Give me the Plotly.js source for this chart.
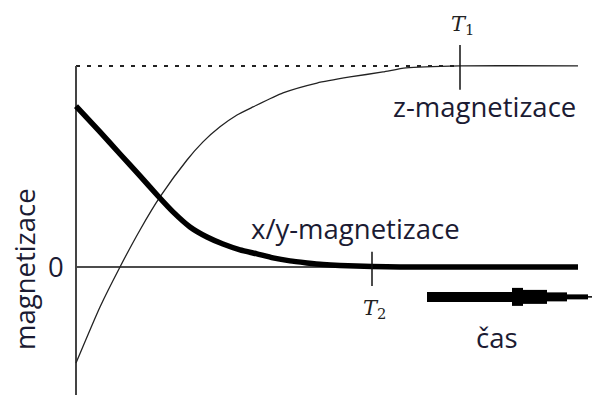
<!DOCTYPE html>
<html>
<head>
<meta charset="utf-8">
<script src="https://cdn.plot.ly/plotly-3.0.1.min.js"></script>
<style>
  html, body { margin: 0; padding: 0; background: #fff; }
  #viz { width: 592px; height: 401px; }
</style>
</head>
<body>
<div id="viz"></div>
<script>
// z-magnetization recovery (thin curve)
const zTime = [0, 0.24, 0.44, 0.64, 0.84, 1.11, 1.27, 1.44, 1.61, 1.77, 2.07, 2.41, 2.74, 3.07, 3.3, 3.84, 5.02];
const zMag = [-0.478, -0.199, 0, 0.184, 0.348, 0.532, 0.622, 0.697, 0.756, 0.796, 0.866, 0.915, 0.945, 0.97, 0.99, 1.0, 1.0];

// x/y-magnetization decay (thick curve)
const xyTime = [0, 0.24, 0.44, 0.64, 0.82, 0.97, 1.14, 1.31, 1.47, 1.64, 1.81, 1.97, 2.14, 2.31, 2.47, 2.64, 2.96, 3.24, 5.02];
const xyMag = [0.8, 0.672, 0.562, 0.453, 0.353, 0.274, 0.199, 0.149, 0.114, 0.085, 0.065, 0.045, 0.03, 0.02, 0.012, 0.007, 0.002, 0, 0];

// time constants
const T1 = 3.84;
const T2 = 2.96;

const tEnd = 5.02;
const axisBottom = -0.637;

const ink = '#1b1b33';
const lbl = { family: 'Open Sans', size: 27.5, color: ink };
const serif = { family: 'DejaVu Serif', size: 21, color: '#222' };

const data = [
	// dotted asymptote
	{ x: [0, T1], y: [1, 1], mode: 'lines', line: { color: '#222', width: 2, dash: '4px,7px' } },
	// zero line
	{ x: [0, tEnd], y: [0, 0], mode: 'lines', line: { color: '#111', width: 1.5 } },
	// vertical axis
	{ x: [0, 0], y: [axisBottom, 1], mode: 'lines', line: { color: '#444', width: 2 } },
	// thin z curve
	{ x: zTime, y: zMag, mode: 'lines', line: { color: '#222', width: 1.3, shape: 'spline', smoothing: 0.6 } },
	// thick x/y curve
	{ x: xyTime, y: xyMag, mode: 'lines', line: { color: '#000', width: 5.5, shape: 'spline', smoothing: 0.5 } },
	// T1 / T2 ticks
	{ x: [T1, T1], y: [0.881, 1.104], mode: 'lines', line: { color: '#111', width: 1.5 } },
	{ x: [T2, T2], y: [-0.095, 0.075], mode: 'lines', line: { color: '#111', width: 1.5 } }
];

// stylised time arrow, pieces from left to right
const arrowY = -0.149;
const arrow = [[3.51, 4.36, 10], [4.36, 4.47, 18], [4.47, 4.71, 14], [4.71, 4.91, 9], [4.91, 5.12, 5], [5.12, 5.16, 1.5]];
const pxY = 201;
const shapes = arrow.map(a => ({
	type: 'rect', xref: 'x', yref: 'y',
	x0: a[0], x1: a[1],
	y0: arrowY - a[2] / 2 / pxY, y1: arrowY + a[2] / 2 / pxY,
	fillcolor: '#000', line: { width: 0 }
}));

const annotations = [
	{ x: T1 + 0.02, y: 1.205, text: '<i>T</i><sub>1</sub>', font: serif },
	{ x: T2 + 0.02, y: -0.21, text: '<i>T</i><sub>2</sub>', font: serif },
	{ x: 4.085, y: 0.80, text: 'z-magnetizace', font: lbl },
	{ x: 2.79, y: 0.19, text: 'x/y-magnetizace', font: lbl },
	{ x: 4.21, y: -0.35, text: 'čas', font: lbl },
	{ x: -0.2, y: 0, text: '0', font: lbl },
	{ x: -0.51, y: -0.01, text: 'magnetizace', font: lbl, textangle: -90 }
].map(a => Object.assign({ xref: 'x', yref: 'y', showarrow: false }, a));

const layout = {
	width: 592, height: 401,
	margin: { l: 0, r: 0, t: 0, b: 0 },
	showlegend: false,
	paper_bgcolor: '#fff', plot_bgcolor: '#fff',
	xaxis: { range: [-0.76, 5.16], visible: false, fixedrange: true },
	yaxis: { range: [-0.667, 1.328], visible: false, fixedrange: true },
	shapes: shapes,
	annotations: annotations
};

Plotly.newPlot('viz', data, layout, { displayModeBar: false, staticPlot: true });
</script>
</body>
</html>
